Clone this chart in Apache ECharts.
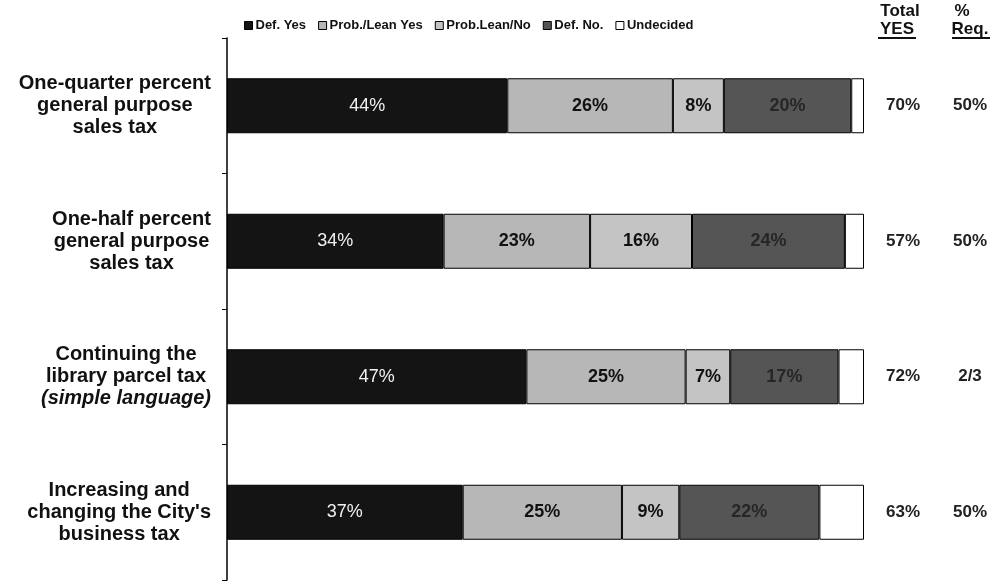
<!DOCTYPE html>
<html lang="en">
  <head>
    <meta charset="utf-8" />
    <title>Tax measures support</title>
    <style>
      * {
        margin: 0;
        padding: 0;
      }

      #chart-container {
        position: relative;
        width: 1003px;
        height: 586px;
        overflow: hidden;
        background: #fff;
      }
    </style>
  </head>

  <body>
    <div id="chart-container"></div>
    <script src="https://cdn.jsdelivr.net/npm/echarts@6/dist/echarts.min.js"></script>
    <script>
      var categories = [
        "One-quarter percent\ngeneral purpose\nsales tax",
        "One-half percent\ngeneral purpose\nsales tax",
        "Continuing the\nlibrary parcel tax\n(simple language)",
        "Increasing and\nchanging the City's\nbusiness tax",
      ];
      var seriesNames = ["Def. Yes", "Prob./Lean Yes", "Prob.Lean/No", "Def. No.", "Undecided"];
      var defYes = [44, 34, 47, 37];
      var leanYes = [26, 23, 25, 25];
      var leanNo = [8, 16, 7, 9];
      var defNo = [20, 24, 17, 22];
      var undecided = [2, 3, 4, 7];
      var totalYes = ["70%", "57%", "72%", "63%"];
      var pctReq = ["50%", "50%", "2/3", "50%"];

      var font = "'Liberation Sans', Arial, sans-serif";
      var colors = ["#141414", "#b7b7b7", "#c4c4c4", "#555555", "#ffffff"];
      var labelColors = ["#f0f0f0", "#111", "#111", "#262626", "#111"];
      var labelWeights = ["normal", "bold", "bold", "bold", "bold"];
      var values = [defYes, leanYes, leanNo, defNo, undecided];

      var dom = document.getElementById("chart-container");
      var myChart = echarts.init(dom, null, { renderer: "canvas" });

      var series = seriesNames.map(function (name, i) {
        return {
          name: name,
          type: "bar",
          stack: "total",
          barWidth: 55,
          data: values[i],
          itemStyle: {
            color: colors[i],
            borderColor: "#000",
            borderWidth: 1,
          },
          label: {
            show: i < 4,
            position: "inside",
            formatter: "{c}%",
            color: labelColors[i],
            fontFamily: font,
            fontSize: 18,
            fontWeight: labelWeights[i],
          },
        };
      });

      var sideLabel = {
        align: "center",
        fontFamily: font,
        fontSize: 17,
        fontWeight: "bold",
        color: "#222",
      };

      var option = {
        animation: false,
        legend: {
          data: seriesNames,
          left: 239,
          top: 14,
          icon: "rect",
          itemWidth: 8,
          itemHeight: 8,
          itemGap: 12,
          itemStyle: { borderColor: "#000", borderWidth: 1 },
          textStyle: {
            fontFamily: font,
            fontSize: 13,
            fontWeight: "bold",
            color: "#111",
            padding: [0, 0, 0, -2],
          },
        },
        grid: {
          left: 227,
          right: 139,
          top: 38,
          bottom: 6,
        },
        xAxis: {
          type: "value",
          min: 0,
          max: 100,
          show: false,
        },
        yAxis: [
          {
            type: "category",
            inverse: true,
            data: categories,
            axisLine: { show: true, lineStyle: { color: "#000", width: 1.5 } },
            axisTick: { show: true, length: 5, lineStyle: { color: "#000" } },
            axisLabel: {
              margin: 16,
              align: "right",
              formatter: function (v) {
                return v
                  .split("\n")
                  .map(function (line) {
                    return line.charAt(0) === "(" ? "{i|" + line + "}" : "{c|" + line + "}";
                  })
                  .join("\n");
              },
              rich: {
                c: {
                  align: "center",
                  fontFamily: font,
                  fontSize: 20,
                  fontWeight: "bold",
                  color: "#111",
                  lineHeight: 22,
                },
                i: {
                  align: "center",
                  fontFamily: font,
                  fontSize: 20,
                  fontWeight: "bold",
                  fontStyle: "italic",
                  color: "#111",
                  lineHeight: 22,
                },
              },
            },
          },
          {
            type: "category",
            inverse: true,
            position: "right",
            data: totalYes,
            axisLine: { show: false },
            axisTick: { show: false },
            axisLabel: Object.assign({ margin: 39 }, sideLabel),
          },
          {
            type: "category",
            inverse: true,
            position: "right",
            data: pctReq,
            axisLine: { show: false },
            axisTick: { show: false },
            axisLabel: Object.assign({ margin: 106 }, sideLabel),
          },
        ],
        graphic: [
          { type: "text", x: 900, y: 3, style: { text: "Total", font: "bold 17px " + font, fill: "#111", align: "center" } },
          { type: "text", x: 897, y: 21, style: { text: "YES", font: "bold 17px " + font, fill: "#111", align: "center" } },
          { type: "line", shape: { x1: 878, y1: 38, x2: 916, y2: 38 }, style: { stroke: "#111", lineWidth: 2 } },
          { type: "text", x: 962, y: 3, style: { text: "%", font: "bold 17px " + font, fill: "#111", align: "center" } },
          { type: "text", x: 970, y: 21, style: { text: "Req.", font: "bold 17px " + font, fill: "#111", align: "center" } },
          { type: "line", shape: { x1: 952, y1: 38, x2: 990, y2: 38 }, style: { stroke: "#111", lineWidth: 2 } },
        ],
        series: series,
      };

      myChart.setOption(option);
      window.addEventListener("resize", myChart.resize);
    </script>
  </body>
</html>
